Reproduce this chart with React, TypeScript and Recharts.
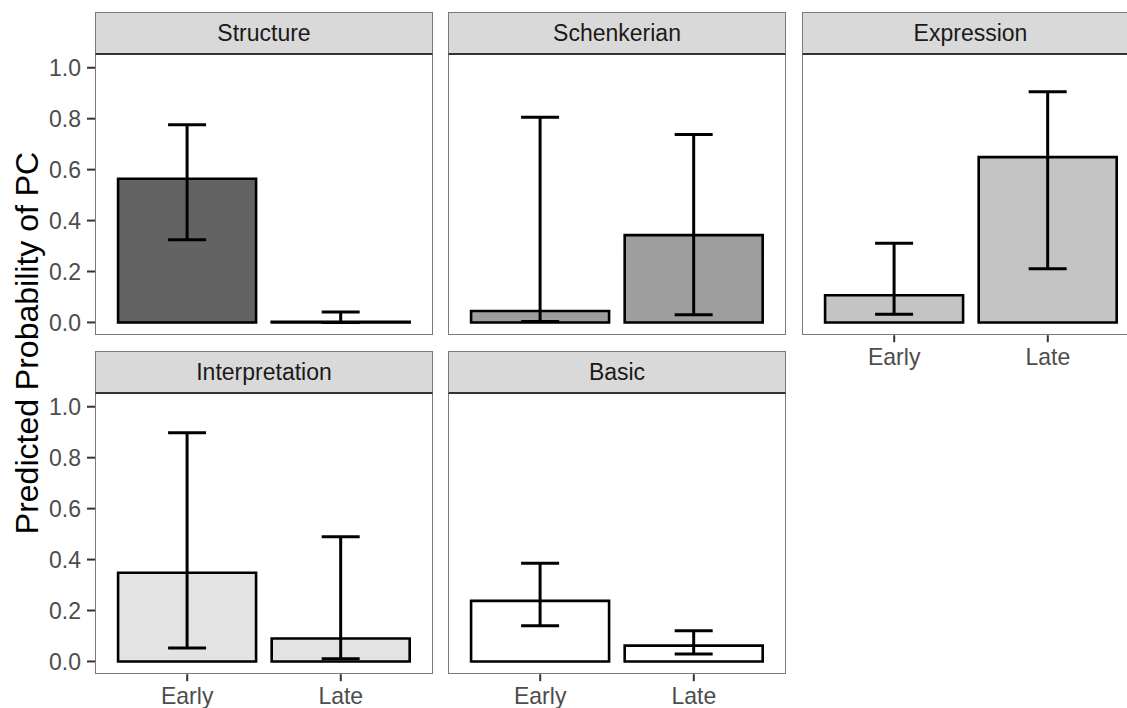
import React from 'react';
import { BarChart, Bar, XAxis, YAxis, ErrorBar } from 'recharts';

// facets and periods
const facets = ['Structure', 'Schenkerian', 'Expression', 'Interpretation', 'Basic'];
const periods = ['Early', 'Late'];

// predicted probabilities with 95% intervals, one entry per facet
const earlyFit = [0.564, 0.045, 0.107, 0.348, 0.238];
const earlyLow = [0.325, 0.004, 0.032, 0.053, 0.140];
const earlyHigh = [0.776, 0.806, 0.311, 0.898, 0.386];
const lateFit = [0.003, 0.343, 0.649, 0.090, 0.062];
const lateLow = [0.0, 0.030, 0.211, 0.011, 0.029];
const lateHigh = [0.041, 0.738, 0.906, 0.490, 0.121];

const facetFills = ['#636363', '#9e9e9e', '#c4c4c4', '#e3e3e3', '#ffffff'];
const yTicks = [0, 0.2, 0.4, 0.6, 0.8, 1.0];

// layout
const PLOT_W = 338;
const PLOT_H = 280.2;
const STRIP_H = 43.3;
const colLeft = [95, 448, 801.5];
const rowTop = [55.3, 394.3];
const Y_AXIS_W = 70;
const X_AXIS_H = 45;
const FONT = '"Liberation Sans", Arial, sans-serif';

// grid slot of each facet: [col, row]
const slots = [[0, 0], [1, 0], [2, 0], [0, 1], [1, 1]];

const tickStyle = { fontSize: 23, fill: '#4d4d4d', fontFamily: FONT };

const Panel: React.FC<{ i: number }> = ({ i }) => {
  const [col, row] = slots[i];
  const showY = col === 0;
  // x axis only on the lowest panel of each column
  const showX = row === 1 || col === 2;
  const data = periods.map((p, k) => {
    const fit = k === 0 ? earlyFit[i] : lateFit[i];
    const lo = k === 0 ? earlyLow[i] : lateLow[i];
    const hi = k === 0 ? earlyHigh[i] : lateHigh[i];
    return { period: p, fit, err: [fit - lo, hi - fit] };
  });
  const left = colLeft[col];
  const top = rowTop[row];
  const chartLeft = showY ? left - Y_AXIS_W : left;

  return (
    <>
      {/* strip */}
      <div
        style={{
          position: 'absolute',
          left,
          top: top - STRIP_H,
          width: PLOT_W,
          height: STRIP_H,
          boxSizing: 'border-box',
          background: '#d9d9d9',
          border: '1px solid #7a7a7a',
          borderBottom: '2px solid #333',
          display: 'flex',
          alignItems: 'center',
          justifyContent: 'center',
          fontFamily: FONT,
          fontSize: 23,
          color: '#1a1a1a',
        }}
      >
        {facets[i]}
      </div>
      <div style={{ position: 'absolute', left: chartLeft, top }}>
        <BarChart
          width={PLOT_W + (showY ? Y_AXIS_W : 0)}
          height={PLOT_H + (showX ? X_AXIS_H : 0)}
          data={data}
          margin={{ top: 0, right: 0, bottom: 0, left: 0 }}
          barCategoryGap="5%"
          style={{ overflow: 'visible' }}
        >
          <XAxis
            dataKey="period"
            hide={!showX}
            height={X_AXIS_H}
            axisLine={false}
            tickLine={{ stroke: '#333', strokeWidth: 2 }}
            tickSize={7}
            tickMargin={6}
            tick={tickStyle}
            padding={{ left: 15.4, right: 15.4 }}
            interval={0}
          />
          <YAxis
            type="number"
            domain={[-0.05, 1.05]}
            ticks={yTicks}
            interval={0}
            allowDataOverflow
            hide={!showY}
            width={Y_AXIS_W}
            axisLine={false}
            tickLine={{ stroke: '#333', strokeWidth: 2 }}
            tickSize={8}
            tickMargin={6}
            tick={tickStyle}
            tickFormatter={(v: number) => v.toFixed(1)}
          />
          <Bar dataKey="fit" fill={facetFills[i]} stroke="#000" strokeWidth={2.6} isAnimationActive={false}>
            <ErrorBar dataKey="err" width={19} stroke="#000" strokeWidth={3} direction="y" />
          </Bar>
        </BarChart>
      </div>
      {/* panel border */}
      <div
        style={{
          position: 'absolute',
          left,
          top,
          width: PLOT_W,
          height: PLOT_H,
          boxSizing: 'border-box',
          border: '1.5px solid #7a7a7a',
          borderTop: 'none',
          pointerEvents: 'none',
        }}
      />
    </>
  );
};

export default function App() {
  return (
    <div
      style={{
        position: 'absolute',
        left: 0,
        top: 0,
        width: 1127,
        height: 708,
        overflow: 'hidden',
        background: '#fff',
      }}
    >
      {facets.map((f, i) => (
        <Panel key={f} i={i} />
      ))}
      <div
        style={{
          position: 'absolute',
          left: 27,
          top: 343,
          transform: 'translate(-50%, -50%) rotate(-90deg)',
          whiteSpace: 'nowrap',
          fontFamily: FONT,
          fontSize: 32,
          color: '#000',
        }}
      >
        Predicted Probability of PC
      </div>
    </div>
  );
}
